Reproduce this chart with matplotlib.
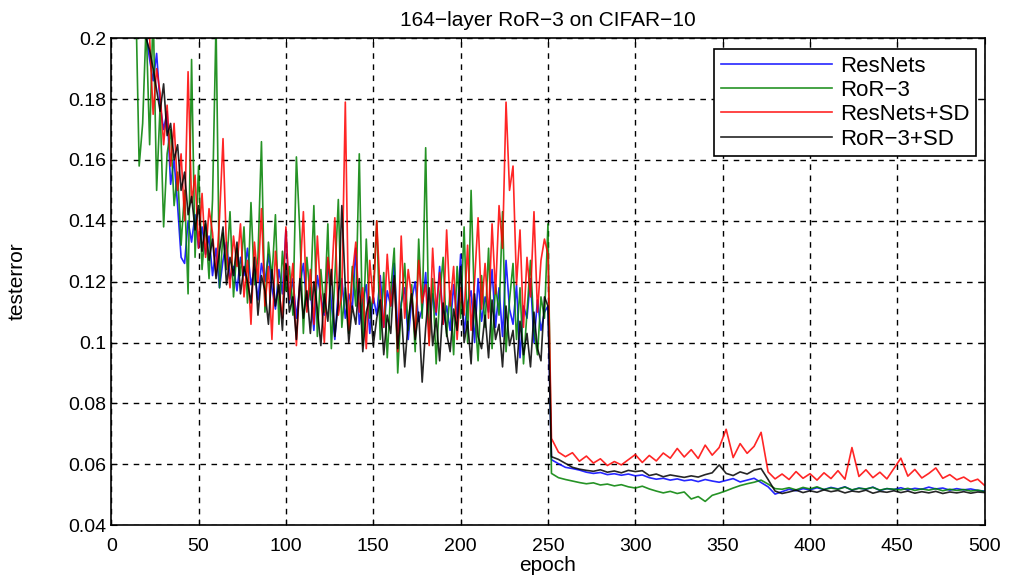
import numpy as np
import matplotlib
matplotlib.use('Agg')
from matplotlib import pyplot as plt

plt.rcParams['font.family'] = ['Liberation Sans', 'DejaVu Sans']

# epochs: dense before the lr drop, coarser after it
epochs_pre = np.arange(14, 252, 2)      # 14 .. 250
epochs_post = np.arange(252, 504, 4)    # 252 .. 500

# test error x 1000
resnets_pre = [
    240, 222, 205, 201, 193, 186, 195, 178, 170, 176,
    152, 160, 145, 128, 126, 140, 133, 142, 131, 138,
    129, 135, 122, 131, 118, 127, 133, 121, 125, 117,
    128, 122, 131, 119, 124, 114, 126, 120, 129, 118,
    111, 124, 116, 137, 113, 121, 108, 119, 126, 112,
    118, 104, 122, 115, 109, 127, 113, 101, 117, 121,
    108, 116, 111, 131, 106, 114, 119, 103, 115, 109,
    122, 105, 117, 112, 126, 104, 113, 118, 101, 114,
    120, 107, 111, 123, 102, 116, 109, 125, 106, 112,
    104, 119, 108, 129, 103, 113, 117, 100, 121, 107,
    115, 110, 124, 105, 118, 102, 127, 111, 106, 119,
    95, 112, 108, 121, 100, 114, 104, 110, 112]
ror3_pre = [
    215, 158, 172, 205, 165, 210, 150, 178, 138, 162,
    170, 145, 156, 132, 150, 116, 193, 128, 158, 124,
    139, 121, 147, 205, 118, 136, 124, 143, 115, 131,
    122, 138, 113, 146, 119, 128, 166, 110, 133, 121,
    142, 106, 130, 117, 125, 109, 161, 136, 103, 128,
    114, 145, 102, 124, 110, 139, 98, 121, 147, 105,
    118, 103, 125, 112, 162, 99, 134, 108, 116, 140,
    101, 123, 95, 117, 131, 90, 112, 126, 104, 119,
    97, 134, 108, 164, 100, 121, 93, 115, 128, 102,
    117, 96, 125, 108, 138, 100, 150, 111, 94, 122,
    105, 131, 98, 119, 109, 143, 97, 114, 126, 101,
    118, 93, 110, 127, 104, 96, 115, 108, 139]
resnets_sd_pre = [
    250, 235, 220, 210, 200, 175, 190, 182, 165, 178,
    158, 172, 150, 162, 140, 189, 146, 155, 131, 149,
    128, 144, 136, 122, 141, 167, 130, 118, 135, 125,
    139, 115, 127, 106, 133, 120, 144, 112, 125, 101,
    130, 117, 108, 138, 114, 126, 99, 121, 143, 110,
    124, 106, 135, 115, 100, 128, 119, 141, 109, 116,
    179, 104, 122, 133, 110, 118, 98, 127, 113, 140,
    116, 105, 129, 112, 121, 97, 135, 108, 124, 115,
    102, 127, 113, 119, 99, 131, 110, 123, 106, 137,
    112, 125, 101, 118, 109, 132, 104, 120, 141, 111,
    126, 108, 139, 116, 145, 131, 179, 150, 158, 119,
    137, 105, 128, 115, 143, 110, 127, 134, 129]
ror3_sd_pre = [
    240, 225, 212, 200, 196, 190, 183, 176, 185, 168,
    172, 160, 165, 150, 156, 142, 148, 137, 145, 130,
    140, 127, 134, 121, 130, 138, 119, 128, 122, 133,
    116, 125, 120, 113, 128, 109, 122, 117, 106, 124,
    112, 119, 104, 126, 110, 115, 101, 121, 108, 117,
    103, 120, 111, 99, 116, 107, 124, 102, 113, 145,
    118, 100, 112, 106, 121, 97, 110, 115, 99, 108,
    114, 96, 109, 103, 122, 98, 111, 92, 107, 116,
    101, 110, 87, 105, 118, 99, 108, 94, 113, 103,
    97, 111, 104, 125, 100, 107, 93, 116, 102, 98,
    109, 95, 114, 101, 106, 92, 112, 99, 104, 90,
    107, 96, 103, 92, 110, 98, 94, 115, 112]

resnets_post = [
    61.5, 60.2, 59.0, 58.6, 58.1, 57.4, 57.0, 57.3, 56.6, 56.9,
    56.4, 56.8, 56.2, 56.5, 55.6, 55.1, 55.4, 54.8, 55.2, 54.6,
    54.9, 54.3, 55.0, 54.5, 54.1, 54.7, 55.3, 54.2, 54.8, 55.4,
    54.0, 52.6, 50.2, 51.0, 51.8, 51.3, 52.0, 51.6, 52.3, 51.7,
    52.4, 51.9, 52.6, 51.5, 52.2, 51.8, 52.5, 51.4, 52.0, 51.7,
    52.3, 51.6, 52.1, 51.8, 52.5, 51.9, 52.2, 51.5, 52.0, 51.6,
    51.9, 51.4, 51.2]
ror3_post = [
    57.0, 55.6, 55.0, 54.5, 54.0, 53.6, 53.9, 53.2, 53.5, 52.9,
    53.3, 52.6, 52.2, 52.8, 51.9, 51.2, 50.6, 51.1, 50.4, 50.9,
    48.6, 49.4, 47.8, 49.8, 50.5, 51.3, 52.2, 53.0, 53.6, 54.1,
    54.8, 53.5, 52.0, 51.8, 52.3, 51.6, 52.4, 51.9, 52.6, 51.7,
    52.2, 51.8, 52.5, 51.6, 52.1, 51.9, 52.4, 51.5, 52.0, 51.8,
    51.6, 52.1, 51.4, 51.9, 51.5, 52.0, 51.3, 51.8, 51.4, 51.7,
    51.2, 51.5, 51.0]
resnets_sd_post = [
    68.5, 64.0, 62.5, 63.8, 61.0, 62.7, 60.4, 61.8, 59.6, 60.9,
    59.8, 61.5, 63.2, 60.6, 62.9, 61.1, 63.7, 62.0, 65.2, 62.4,
    64.8, 61.9, 66.3, 63.0, 65.5, 71.5, 62.2, 66.8, 63.6, 65.9,
    70.5, 57.5, 55.2, 56.8, 55.0, 57.6, 55.4, 56.9, 54.8, 57.2,
    55.3, 57.9, 55.1, 65.5, 56.0, 58.2, 55.6, 57.4, 55.2, 58.6,
    62.0, 56.1, 58.3, 55.5, 57.0, 58.8, 55.4, 56.6, 54.9, 55.8,
    54.3, 55.1, 53.0]
ror3_sd_post = [
    62.5, 61.6, 60.3, 59.0, 58.4, 58.0, 57.7, 58.2, 57.4, 57.8,
    57.2, 58.0, 57.6, 57.9, 56.3, 56.8, 55.9, 56.5, 56.1, 55.7,
    56.2, 55.8, 56.6, 57.2, 59.8, 57.0, 56.3, 57.5, 56.8, 58.1,
    58.6, 55.0, 51.2, 50.4, 50.9, 51.5, 50.7, 51.3, 50.8, 51.6,
    51.0, 51.4, 50.6, 51.2, 50.9, 51.5, 50.5, 51.1, 50.8, 51.3,
    50.7, 51.2, 50.5, 51.0, 50.6, 51.1, 50.4, 50.9, 50.6, 51.0,
    50.5, 50.9, 50.7]

labels = ['ResNets', 'RoR\u22123', 'ResNets+SD', 'RoR\u22123+SD']
colors = ['#0000ff', '#008000', '#ff0000', '#000000']
series = [(resnets_pre, resnets_post), (ror3_pre, ror3_post),
          (resnets_sd_pre, resnets_sd_post), (ror3_sd_pre, ror3_sd_post)]

yticks = [0.04, 0.06, 0.08, 0.1, 0.12, 0.14, 0.16, 0.18, 0.2]
ytick_labels = ['0.04', '0.06', '0.08', '0.1', '0.12', '0.14', '0.16', '0.18', '0.2']
xticks = [0, 50, 100, 150, 200, 250, 300, 350, 400, 450, 500]

fig = plt.figure(figsize=(10.11, 5.79), dpi=100)
ax = fig.add_axes([0.110, 0.093, 0.864, 0.841])

epochs = np.concatenate([epochs_pre, epochs_post])
for (pre, post), c, lab in zip(series, colors, labels):
    err = np.concatenate([pre, post]) / 1000.0
    ax.plot(epochs, err, color=c, lw=1.2, alpha=0.85, label=lab)

ax.set_xlim(0, 500)
ax.set_ylim(0.04, 0.2)
ax.set_xticks(xticks)
ax.set_yticks(yticks)
ax.set_yticklabels(ytick_labels)
ax.tick_params(direction='in', length=4, labelsize=14, top=True, right=True)
ax.tick_params(axis='x', pad=9)
ax.grid(True, color='black', linestyle=(0, (4, 4)), lw=1.0)
for sp in ax.spines.values():
    sp.set_linewidth(1.2)

ax.set_title('164\u2212layer RoR\u22123 on CIFAR\u221210', fontsize=15, pad=9)
ax.set_xlabel('epoch', fontsize=15, labelpad=1)
ax.set_ylabel('testerror', fontsize=15, labelpad=30)

leg = ax.legend(loc='upper right', fontsize=16, frameon=True, fancybox=False,
                handlelength=5.0, handletextpad=0.35, borderpad=0.3,
                labelspacing=0.15, borderaxespad=0,
                bbox_to_anchor=(0.990, 0.978))
leg.get_frame().set_edgecolor('black')
leg.get_frame().set_linewidth(1.2)
leg.get_frame().set_alpha(1.0)

fig.savefig('out.png', dpi=100)
